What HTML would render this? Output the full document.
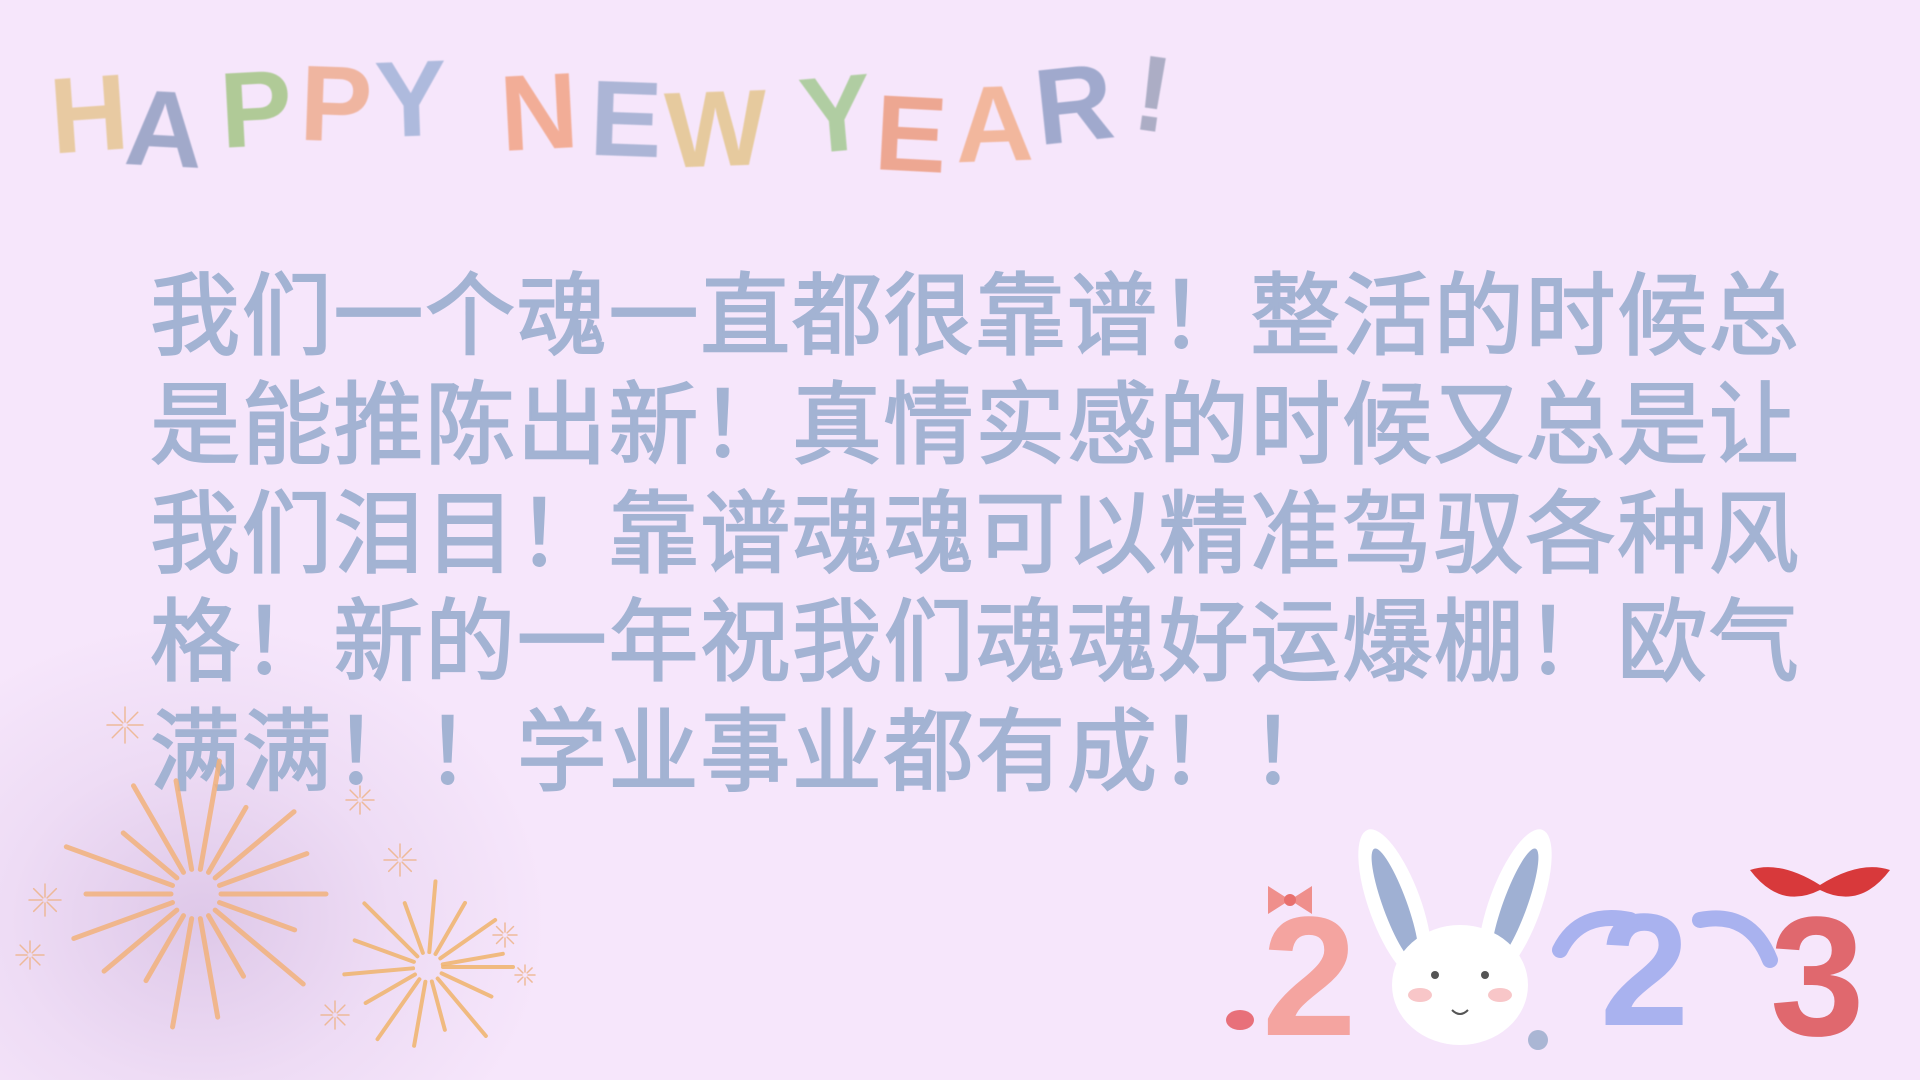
<!DOCTYPE html>
<html lang="zh">
<head>
<meta charset="utf-8">
<title>Happy New Year</title>
<style>
  html,body{margin:0;padding:0;width:1920px;height:1080px;overflow:hidden;}
  #stage{position:relative;width:1920px;height:1080px;overflow:hidden;
    background:radial-gradient(ellipse 350px 300px at 200px 920px, rgba(214,190,226,0.75) 0%, rgba(226,205,236,0.4) 55%, rgba(246,230,251,0) 100%), #f6e6fb;
    font-family:"Liberation Sans","Noto Sans CJK SC",sans-serif;}
  .title{position:absolute;left:50px;top:40px;height:140px;}
  .title span{position:absolute;font-family:"Liberation Sans",sans-serif;font-weight:bold;
    font-size:108px;line-height:1;opacity:0.8;filter:blur(0.6px);}
  .line{position:absolute;left:150px;font-family:"Liberation Sans","Noto Sans CJK SC",sans-serif;
    font-weight:normal;-webkit-text-stroke:2px #a3b3d3;font-size:90px;letter-spacing:1.7px;color:#a3b3d3;line-height:1;white-space:nowrap;}
  svg{position:absolute;left:0;top:0;}
</style>
</head>
<body>
<div id="stage">

<div class="title">
  <span style="left:0;top:20px;color:#e5c48c;transform:rotate(-4deg)">H</span>
  <span style="left:75px;top:35px;color:#8d9bbf;transform:rotate(3deg)">A</span>
  <span style="left:170px;top:15px;color:#9fc47f;transform:rotate(-3deg)">P</span>
  <span style="left:250px;top:10px;color:#eea98a;transform:rotate(2deg)">P</span>
  <span style="left:325px;top:5px;color:#9db0d6;transform:rotate(-2deg)">Y</span>
  <span style="left:450px;top:18px;color:#f2a07f;transform:rotate(-3deg)">N</span>
  <span style="left:540px;top:25px;color:#9aaacd;transform:rotate(2deg)">E</span>
  <span style="left:615px;top:35px;color:#e3c487;transform:rotate(-2deg)">W</span>
  <span style="left:750px;top:20px;color:#9fc88c;transform:rotate(-5deg)">Y</span>
  <span style="left:825px;top:40px;color:#ec9878;transform:rotate(3deg)">E</span>
  <span style="left:905px;top:30px;color:#f2ac86;transform:rotate(-2deg)">A</span>
  <span style="left:985px;top:10px;color:#8b9bc2;transform:rotate(-6deg)">R</span>
  <span style="left:1085px;top:0px;color:#9aa0b8;transform:rotate(8deg)">!</span>
</div>

<div class="line" style="top:272px">我们一个魂一直都很靠谱！整活的时候总</div>
<div class="line" style="top:381px">是能推陈出新！真情实感的时候又总是让</div>
<div class="line" style="top:490px">我们泪目！靠谱魂魂可以精准驾驭各种风</div>
<div class="line" style="top:598px">格！新的一年祝我们魂魂好运爆棚！欧气</div>
<div class="line" style="top:708px">满满！！学业事业都有成！！</div>

<svg id="fw" width="1920" height="1080"></svg>

<svg width="1920" height="1080">
  <g>
    <text x="1262" y="1035" font-family="Liberation Sans" font-weight="bold" font-size="170" fill="#f4a4a0">2</text>
    <path d="M1290 900 l-22 -14 l0 28 z M1290 900 l22 -14 l0 28 z" fill="#ef8f8c"/>
    <circle cx="1290" cy="900" r="6" fill="#e8706e"/>
    <ellipse cx="1240" cy="1020" rx="14" ry="10" fill="#e8707a"/>
  </g>
  <g>
    <ellipse cx="1395" cy="905" rx="26" ry="80" fill="#fff" transform="rotate(-20 1395 905)"/>
    <ellipse cx="1395" cy="905" rx="12" ry="60" fill="#9fb0d3" transform="rotate(-20 1395 905)"/>
    <ellipse cx="1515" cy="905" rx="26" ry="80" fill="#fff" transform="rotate(20 1515 905)"/>
    <ellipse cx="1515" cy="905" rx="12" ry="60" fill="#9fb0d3" transform="rotate(20 1515 905)"/>
    <ellipse cx="1460" cy="985" rx="68" ry="60" fill="#fff"/>
    <circle cx="1435" cy="975" r="4" fill="#555"/>
    <circle cx="1485" cy="975" r="4" fill="#555"/>
    <ellipse cx="1420" cy="995" rx="12" ry="7" fill="#f8c6c8"/>
    <ellipse cx="1500" cy="995" rx="12" ry="7" fill="#f8c6c8"/>
    <path d="M1452 1010 q8 8 16 0" stroke="#555" stroke-width="2" fill="none"/>
    <circle cx="1538" cy="1040" r="10" fill="#aab6d4"/>
  </g>
  <g>
    <text x="1600" y="1025" font-family="Liberation Sans" font-weight="bold" font-size="160" fill="#a9b2ef">2</text>
    <path d="M1560 950 q20 -40 70 -30 M1700 920 q50 -10 70 40" stroke="#a9b2ef" stroke-width="16" fill="none" stroke-linecap="round"/>
  </g>
  <g>
    <text x="1770" y="1035" font-family="Liberation Sans" font-weight="bold" font-size="170" fill="#e0686e">3</text>
    <path d="M1750 870 q30 40 70 20 q40 20 70 -20 q-30 -10 -70 15 q-40 -25 -70 -15z" fill="#d8393b"/>
  </g>
</svg>
</div>

<script>
const rayAngles = [0,20,40,60,80,100,120,140,160,180,200,220,240,260,280,300,320,340];
const rayLengths = [130,105,140,95,125,135,100,120,130,110,138,95,125,115,135,100,128,118];
const smallAngles = [0,25,50,75,100,125,150,175,200,225,250,275,300,325,350];
const smallLengths = [85,70,90,65,80,88,72,84,78,90,68,86,74,82,76];
const sparks = [[125,725,18],[360,800,14],[45,900,16],[30,955,14],[505,935,12],[525,975,10],[335,1015,14],[400,860,16]];
const svg = document.getElementById('fw');
const NS = 'http://www.w3.org/2000/svg';
function burst(cx, cy, angles, lengths, inner, color, width){
  for (let i = 0; i < angles.length; i++){
    const a = angles[i] * Math.PI / 180;
    const l = document.createElementNS(NS, 'line');
    l.setAttribute('x1', cx + Math.cos(a) * inner);
    l.setAttribute('y1', cy + Math.sin(a) * inner);
    l.setAttribute('x2', cx + Math.cos(a) * lengths[i]);
    l.setAttribute('y2', cy + Math.sin(a) * lengths[i]);
    l.setAttribute('stroke', color);
    l.setAttribute('stroke-width', width);
    l.setAttribute('stroke-linecap', 'round');
    l.setAttribute('opacity', '0.85');
    
    
    svg.appendChild(l);
  }
}
burst(196, 894, rayAngles, rayLengths, 25, '#f2b27c', 5);
burst(428, 967, smallAngles, smallLengths, 15, '#f0b46c', 4);
sparks.forEach(s => {
  const small = [0,45,90,135,180,225,270,315];
  const lens = small.map(() => s[2]);
  burst(s[0], s[1], small, lens, 3, '#eeb48a', 1.5);
});
</script>
</body>
</html>
